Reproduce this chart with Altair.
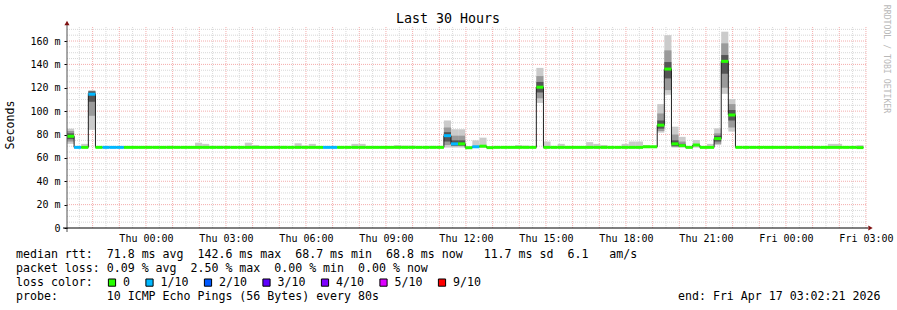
import altair as alt
import pandas as pd

# ---------------- data ----------------
START = "2026-04-15T21:02:21Z"
END = "2026-04-17T03:02:21Z"
STEP_S = 960  # 12 x 80 s consolidated steps

median_ms = [
    78.5, 69.0, 69.0, 114.5, 69.0, 69.0, 69.0, 69.0, 69.0, 69.0,      # 0-9
    69.0, 69.0, 69.0, 69.0, 69.0, 69.0, 69.0, 69.0, 69.0, 69.0,       # 10-19
    69.0, 69.0, 69.0, 69.0, 69.0, 69.0, 69.0, 69.0, 69.0, 69.0,       # 20-29
    69.0, 69.0, 69.0, 69.0, 69.0, 69.0, 69.0, 69.0, 69.0, 69.0,       # 30-39
    69.0, 69.0, 69.0, 69.0, 69.0, 69.0, 69.0, 69.0, 69.0, 69.0,       # 40-49
    69.0, 69.0, 69.0, 79.0, 72.0, 72.0, 68.7, 69.5, 70.0, 68.8,       # 50-59
    69.0, 69.0, 69.0, 69.0, 69.0, 69.0, 120.5, 69.0, 69.0, 69.0,      # 60-69
    69.0, 69.0, 69.0, 69.0, 69.0, 69.0, 69.0, 69.0, 69.0, 69.0,       # 70-79
    69.0, 69.5, 69.5, 88.0, 136.0, 72.0, 70.5, 69.0, 71.0, 69.0,      # 80-89
    69.0, 76.5, 142.6, 96.7, 69.0, 69.0, 69.0, 69.0, 69.0, 69.0,      # 90-99
    69.0, 69.0, 69.0, 69.0, 69.0, 69.0, 69.0, 69.0, 69.0, 69.0,       # 100-109
    69.0, 68.8,                                                       # 110-111
]

loss_idx = [
    0, 1, 0, 1, 0, 1, 1, 1, 0, 0,
    0, 0, 0, 0, 0, 0, 0, 0, 0, 0,
    0, 0, 0, 0, 0, 0, 0, 0, 0, 0,
    0, 0, 0, 0, 0, 0, 1, 1, 0, 0,
    0, 0, 0, 0, 0, 0, 0, 0, 0, 0,
    0, 0, 0, 1, 1, 0, 0, 1, 0, 0,
    0, 0, 0, 0, 0, 0, 0, 0, 0, 0,
    0, 0, 0, 0, 0, 0, 0, 0, 0, 0,
    0, 0, 0, 0, 0, 0, 0, 0, 0, 0,
    0, 0, 0, 0, 0, 0, 0, 0, 0, 0,
    0, 0, 0, 0, 0, 0, 0, 0, 0, 0,
    0, 0,
]

smoke_hi = [
    85.0, 69.6, 72.0, 118.0, 69.6, 69.6, 70.0, 70.0, 69.6, 69.6,
    69.6, 70.2, 70.2, 69.6, 70.3, 69.6, 69.6, 69.6, 73.0, 72.0,
    70.3, 70.3, 70.3, 69.6, 69.6, 73.0, 71.0, 69.6, 69.6, 70.3,
    70.3, 69.6, 72.5, 70.5, 72.0, 69.6, 70.0, 70.0, 69.6, 69.6,
    72.0, 72.0, 69.6, 69.6, 69.6, 69.6, 71.0, 70.5, 70.5, 69.6,
    69.6, 70.3, 70.3, 92.0, 84.5, 84.5, 69.6, 75.0, 77.3, 69.6,
    69.6, 69.6, 69.6, 71.0, 70.5, 69.6, 137.0, 74.0, 69.6, 72.0,
    69.6, 69.6, 69.6, 73.5, 72.0, 71.0, 69.6, 69.6, 72.0, 74.0,
    74.0, 71.0, 70.0, 106.0, 165.0, 86.7, 78.0, 69.6, 75.3, 69.6,
    72.0, 85.3, 168.0, 110.4, 69.6, 69.6, 69.6, 69.6, 69.6, 69.6,
    69.6, 69.6, 69.6, 69.6, 69.6, 69.6, 69.6, 72.0, 72.0, 69.6,
    69.6, 71.0,
]

smoke_lo = [
    72.0, 68.8, 68.8, 84.0, 68.8, 68.8, 68.8, 68.8, 68.8, 68.8,
    68.8, 68.8, 68.8, 68.8, 68.8, 68.8, 68.8, 68.8, 68.8, 68.8,
    68.8, 68.8, 68.8, 68.8, 68.8, 68.8, 68.8, 68.8, 68.8, 68.8,
    68.8, 68.8, 68.8, 68.8, 68.8, 68.8, 68.8, 68.8, 68.8, 68.8,
    68.8, 68.8, 68.8, 68.8, 68.8, 68.8, 68.8, 68.8, 68.8, 68.8,
    68.8, 68.8, 68.8, 68.8, 68.8, 68.8, 68.5, 68.8, 68.8, 68.8,
    68.8, 68.8, 68.8, 68.8, 68.8, 68.8, 107.0, 68.8, 68.8, 68.8,
    68.8, 68.8, 68.8, 68.8, 68.8, 68.8, 68.8, 68.8, 68.8, 68.8,
    68.8, 68.8, 68.8, 81.6, 114.0, 68.8, 68.8, 68.8, 68.8, 68.8,
    68.8, 71.0, 114.7, 82.5, 68.8, 68.8, 68.8, 68.8, 68.8, 68.8,
    68.8, 68.8, 68.8, 68.8, 68.8, 68.8, 68.8, 68.8, 68.8, 68.8,
    68.8, 68.6,
]

# darker smoke bands inside the busy bins
spike_bins = [0, 3, 53, 54, 55, 66, 83, 84, 85, 86, 91, 92, 93]
core_lo = [74.0, 96.0, 71.0, 70.0, 70.0, 111.0, 83.0, 118.0, 69.5, 69.5, 72.0, 120.0, 86.0]
core_hi = [83.0, 117.0, 86.0, 79.0, 79.0, 130.0, 98.0, 152.0, 80.0, 74.0, 81.0, 158.0, 106.0]
dark_lo = [76.0, 108.0, 74.0, 70.5, 70.5, 116.0, 85.0, 128.0, 70.0, 69.5, 74.0, 132.0, 92.0]
dark_hi = [81.0, 117.0, 82.0, 75.0, 75.0, 125.0, 92.0, 142.0, 75.0, 72.0, 79.0, 148.0, 101.0]

loss_labels = ["0", "1/10", "2/10", "3/10", "4/10", "5/10", "9/10"]
loss_colors = ["#26ff00", "#00b8ff", "#0059ff", "#5e00ff", "#7e00ff", "#dd00ff", "#ff0000"]

y_ticks = [0, 20, 40, 60, 80, 100, 120, 140, 160]
x_label_times = [
    "2026-04-16T00:00:00Z", "2026-04-16T03:00:00Z", "2026-04-16T06:00:00Z",
    "2026-04-16T09:00:00Z", "2026-04-16T12:00:00Z", "2026-04-16T15:00:00Z",
    "2026-04-16T18:00:00Z", "2026-04-16T21:00:00Z", "2026-04-17T00:00:00Z",
    "2026-04-17T03:00:00Z",
]

title_text = "Last 30 Hours"
y_title = "Seconds"
watermark = "RRDTOOL / TOBI OETIKER"
legend_rows = [
    "median rtt:  71.8 ms avg  142.6 ms max  68.7 ms min  68.8 ms now   11.7 ms sd  6.1   am/s",
    "packet loss: 0.09 % avg  2.50 % max  0.00 % min  0.00 % now",
    "loss color:",
    "probe:       10 ICMP Echo Pings (56 Bytes) every 80s",
]
end_text = "end: Fri Apr 17 03:02:21 2026"

# ---------------- layout ----------------
W, H = 800, 201
PAD_L, PAD_T = 67, 27
Y_MAX = 172
FONT = "DejaVu Sans Mono"
CW = 7.0

def ms(s):
    return int(pd.Timestamp(s).value // 10**6)

start_ms, end_ms = ms(START), ms(END)
step_ms = STEP_S * 1000
n = len(median_ms)
t0 = [start_ms + i * step_ms for i in range(n)]
t1 = [t + step_ms for t in t0]

bins = pd.DataFrame({
    "t": t0, "t2": t1, "med": median_ms, "lo": smoke_lo, "hi": smoke_hi,
    "loss": [loss_labels[k] for k in loss_idx],
})
line_df = pd.DataFrame({"t": t0 + [t1[-1]], "med": median_ms + [median_ms[-1]]})
sp = pd.DataFrame({
    "t": [t0[i] for i in spike_bins], "t2": [t1[i] for i in spike_bins],
    "clo": core_lo, "chi": core_hi, "dlo": dark_lo, "dhi": dark_hi,
})

# grid positions
first_half = start_ms + (1800_000 - (start_ms % 1800_000))
half_hours = list(range(first_half, end_ms + 1, 1800_000))
vmajor = pd.DataFrame({"t": [t for t in half_hours if t % 3600_000 == 0]})
vminor = pd.DataFrame({"t": [t for t in half_hours if t % 3600_000 != 0]})
hmajor = pd.DataFrame({"v": [v for v in range(20, Y_MAX, 20)]})
hminor = pd.DataFrame({"v": [v for v in range(5, Y_MAX, 5) if v % 20]})

xscale = alt.Scale(type="utc", domain=[start_ms, end_ms])
yscale = alt.Scale(domain=[0, Y_MAX], nice=False, zero=True)
xaxis = alt.Axis(values=[ms(s) for s in x_label_times],
                 labelExpr="utcFormat(datum.value, '%a %H:%M')",
                 domain=False, grid=False, ticks=False, labelPadding=5,
                 labelFlush=False, labelOverlap=False, labelFont=FONT,
                 labelFontSize=10, labelColor="#000000")
yaxis = alt.Axis(values=y_ticks,
                 labelExpr="datum.value == 0 ? '0' : datum.value + ' m'",
                 domain=False, grid=False, ticks=True, tickSize=3, tickColor="#000000",
                 labelPadding=4, labelFlush=False, labelOverlap=False,
                 labelFont=FONT, labelFontSize=10, labelColor="#000000")


def X(f="t"):
    return alt.X(f, type="temporal", scale=xscale, axis=xaxis, title=None)


def Y(f):
    return alt.Y(f, type="quantitative", scale=yscale, axis=yaxis, title=None)


GRID_GREY = "#d8d8d8"
GRID_RED = "#f4acac"
DASH = [1, 1]

layers = []
layers.append(alt.Chart(hminor).mark_rule(color=GRID_GREY, strokeDash=DASH).encode(
    y=Y("v"), x=alt.value(0), x2=alt.value(W)))
layers.append(alt.Chart(vminor).mark_rule(color=GRID_GREY, strokeDash=DASH).encode(
    x=X("t"), y=alt.value(0), y2=alt.value(H)))
layers.append(alt.Chart(hmajor).mark_rule(color=GRID_RED, strokeDash=DASH).encode(
    y=Y("v"), x=alt.value(0), x2=alt.value(W)))
layers.append(alt.Chart(vmajor).mark_rule(color=GRID_RED, strokeDash=DASH).encode(
    x=X("t"), y=alt.value(0), y2=alt.value(H)))

# smoke
layers.append(alt.Chart(bins).mark_rect(color="#cbcbcb").encode(
    x=X("t"), x2="t2", y=Y("lo"), y2="hi"))
layers.append(alt.Chart(sp).mark_rect(color="#9a9a9a").encode(
    x=X("t"), x2="t2", y=Y("clo"), y2="chi"))
layers.append(alt.Chart(sp).mark_rect(color="#555555").encode(
    x=X("t"), x2="t2", y=Y("dlo"), y2="dhi"))

# median step line
layers.append(alt.Chart(line_df).mark_line(interpolate="step-after", color="#202020",
                                           strokeWidth=1).encode(x=X("t"), y=Y("med")))
# loss coloured median band
layers.append(alt.Chart(bins).mark_rule(strokeWidth=3).encode(
    x=X("t"), x2="t2", y=Y("med"),
    color=alt.Color("loss:N", scale=alt.Scale(domain=loss_labels, range=loss_colors),
                    legend=None)))

one = pd.DataFrame({"a": [0]})
# axis lines and arrows
layers.append(alt.Chart(one).mark_rule(color="#505050", strokeWidth=1).encode(
    x=alt.value(0), y=alt.value(-4), y2=alt.value(H + 4)))
layers.append(alt.Chart(one).mark_rule(color="#000000", strokeWidth=1).encode(
    x=alt.value(-4), x2=alt.value(W + 1), y=alt.value(H)))
layers.append(alt.Chart(one).mark_point(shape="triangle-up", filled=True, color="#7f1010",
                                        size=26, opacity=1).encode(
    x=alt.value(0), y=alt.value(-4)))
layers.append(alt.Chart(one).mark_point(shape="triangle-right", filled=True, color="#7f1010",
                                        size=26, opacity=1).encode(
    x=alt.value(W + 3.5), y=alt.value(H)))

# texts
layers.append(alt.Chart(one).mark_text(text=title_text, font=FONT, fontSize=13.3,
                                       align="center", baseline="middle", color="#000").encode(
    x=alt.value(448 - PAD_L), y=alt.value(19 - PAD_T)))
layers.append(alt.Chart(one).mark_text(text=y_title, font=FONT, fontSize=11.6, angle=270,
                                       align="center", baseline="middle", color="#000").encode(
    x=alt.value(11 - PAD_L), y=alt.value(125 - PAD_T)))
layers.append(alt.Chart(one).mark_text(text=watermark, font=FONT, fontSize=8.2, angle=90,
                                       align="center", baseline="middle", color="#b8b8b8").encode(
    x=alt.value(886 - PAD_L), y=alt.value(59 - PAD_T)))

row_y = [255, 268.7, 282.6, 296.5]
for txt, yy in zip(legend_rows, row_y):
    layers.append(alt.Chart(one).mark_text(text=txt.replace(" ", "\u00a0"), font=FONT,
                                           fontSize=11.6, align="left", baseline="middle",
                                           color="#000").encode(
        x=alt.value(16 - PAD_L), y=alt.value(yy - PAD_T)))
layers.append(alt.Chart(one).mark_text(text=end_text.replace(" ", "\u00a0"), font=FONT,
                                       fontSize=11.6, align="left", baseline="middle",
                                       color="#000").encode(
    x=alt.value(678 - PAD_L), y=alt.value(row_y[3] - PAD_T)))

# loss colour legend squares
sq_c = 112.0
for lab, col in zip(loss_labels, loss_colors):
    layers.append(alt.Chart(one).mark_square(filled=True, color=col, stroke="#000000",
                                             strokeWidth=1, size=52, opacity=1).encode(
        x=alt.value(sq_c - PAD_L), y=alt.value(row_y[2] - PAD_T)))
    lx = sq_c + 11
    layers.append(alt.Chart(one).mark_text(text=lab, font=FONT, fontSize=11.6, align="left",
                                           baseline="middle", color="#000").encode(
        x=alt.value(lx - PAD_L), y=alt.value(row_y[2] - PAD_T)))
    sq_c = lx + CW * len(lab) + 19.5

chart = alt.layer(*layers).properties(
    width=W, height=H,
    autosize=alt.AutoSizeParams(type="none"),
    padding={"left": PAD_L, "top": PAD_T, "right": 897 - PAD_L - W, "bottom": 310 - PAD_T - H},
    background="#ffffff",
).configure_view(stroke=None)

chart.save("out.html", embed_options={"renderer": "svg", "actions": False})
